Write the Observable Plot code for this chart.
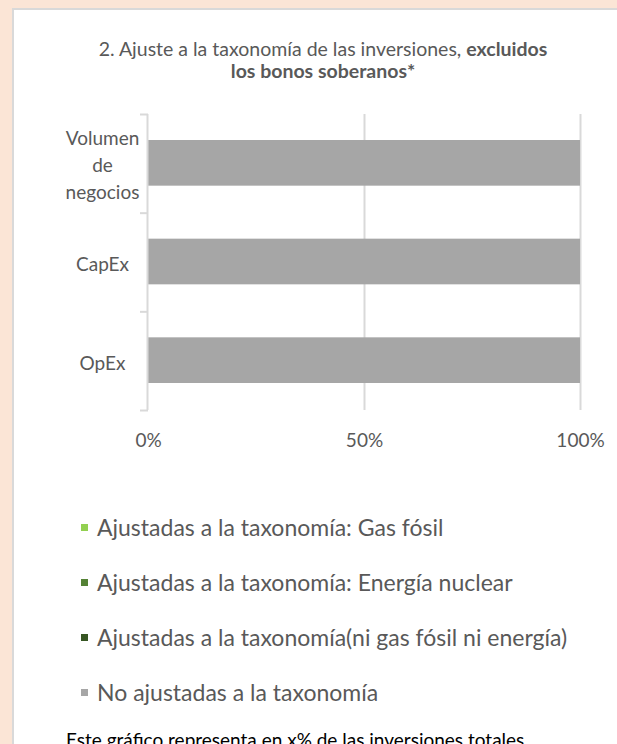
<!DOCTYPE html>
<html>
<head>
<meta charset="utf-8">
<script src="https://cdn.jsdelivr.net/npm/d3@7"></script>
<script src="https://cdn.jsdelivr.net/npm/@observablehq/plot@0.6"></script>
<style>
  html, body { margin: 0; padding: 0; }
  body { width: 617px; height: 744px; overflow: hidden; background: #FBE5D6; position: relative; font-family: Lato, "Open Sans", sans-serif; }
  #panel { position: absolute; left: 12px; top: 8px; width: 640px; height: 780px; background: #fff; border-left: 2px solid #d9d9d9; border-top: 2px solid #d9d9d9; }
  #title { position: absolute; left: 0; width: 646px; top: 38px; text-align: center; color: #595959; font-size: 19.5px; line-height: 22px; }
  #chart { position: absolute; left: 0; top: 90px; }
  #legend { position: absolute; left: 80px; top: 513px; }
  .item { display: flex; align-items: center; height: 28px; margin-bottom: 27px; color: #595959; font-size: 23px; white-space: nowrap; }
  .sw { width: 7px; height: 7px; margin-right: 9px; margin-left: 1px; }
  #foot { position: absolute; left: 66px; top: 728px; font-size: 19px; color: #000; white-space: nowrap; }
</style>
</head>
<body>
<div id="panel"></div>
<div id="title">2. Ajuste a la taxonomía de las inversiones, <b>excluidos<br>los bonos soberanos*</b></div>
<div id="chart"></div>
<div id="legend"></div>
<div id="foot">Este gráfico representa en x% de las inversiones totales.</div>
<script>
const categories = ["Volumen de negocios", "CapEx", "OpEx"];
const categoryLabels = ["Volumen\nde\nnegocios", "CapEx", "OpEx"];
const seriesNames = [
  "Ajustadas a la taxonomía: Gas fósil",
  "Ajustadas a la taxonomía: Energía nuclear",
  "Ajustadas a la taxonomía(ni gas fósil ni energía)",
  "No ajustadas a la taxonomía"
];
const seriesColors = ["#92D050", "#548235", "#375623", "#A6A6A6"];
const gasFosil = [0, 0, 0];
const energiaNuclear = [0, 0, 0];
const niGasNiEnergia = [0, 0, 0];
const noAjustadas = [100, 100, 100];
const xTicks = [0, 50, 100];

const seriesValues = [gasFosil, energiaNuclear, niGasNiEnergia, noAjustadas];
const data = [];
categories.forEach((c, i) => {
  seriesNames.forEach((s, j) => {
    data.push({category: c, pos0: i, pos1: i + 1, series: s, value: seriesValues[j][i]});
  });
});
const labelData = categories.map((c, i) => ({label: categoryLabels[i], pos: i + 0.5}));

const plot = Plot.plot({
  width: 617,
  height: 380,
  marginLeft: 148,
  marginRight: 37,
  marginTop: 24,
  marginBottom: 60,
  style: {background: "transparent", fontFamily: "Lato, 'Open Sans', sans-serif", overflow: "visible"},
  x: {domain: [0, 100]},
  y: {domain: [0, categories.length], reverse: true},
  color: {domain: seriesNames, range: seriesColors},
  marks: [
    Plot.ruleX(xTicks.filter(d => d > 0), {stroke: "#d9d9d9", strokeWidth: 2}),
    Plot.rectX(data, Plot.stackX({y1: "pos0", y2: "pos1", x: "value", fill: "series", insetTop: 26, insetBottom: 27, order: seriesNames})),
    Plot.ruleX([0], {stroke: "#d9d9d9", strokeWidth: 2, dx: -1}),
    Plot.axisY({ticks: d3.range(categories.length + 1), tickSize: 8, tickFormat: () => "", stroke: "#d9d9d9", strokeWidth: 2, label: null}),
    Plot.axisX({ticks: xTicks, tickSize: 0, tickPadding: 23, tickFormat: d => d + "%", fontSize: 19, fill: "#595959", label: null}),
    Plot.text(labelData, {y: "pos", text: "label", frameAnchor: "left", dx: -46, textAnchor: "middle", lineHeight: 1.42, fontSize: 19, fill: "#595959"})
  ]
});
document.getElementById("chart").appendChild(plot);

const legend = document.getElementById("legend");
seriesNames.forEach((s, j) => {
  const item = document.createElement("div");
  item.className = "item";
  const sw = document.createElement("span");
  sw.className = "sw";
  sw.style.background = seriesColors[j];
  const t = document.createElement("span");
  t.textContent = s;
  item.appendChild(sw);
  item.appendChild(t);
  legend.appendChild(item);
});
</script>
</body>
</html>
